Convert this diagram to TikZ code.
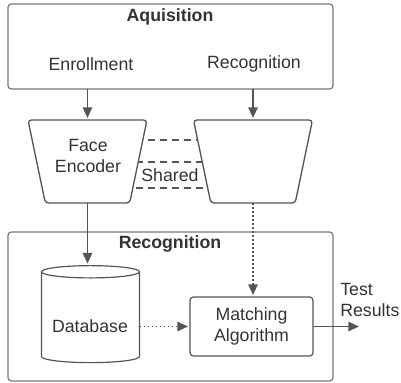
\documentclass[tikz,border=0pt]{standalone}
\usepackage{fontspec}
\setmainfont{Liberation Sans}
\usetikzlibrary{arrows.meta, positioning, shapes.geometric, backgrounds}

\definecolor{linegray}{HTML}{555555}
\definecolor{boxgray}{HTML}{777777}
\definecolor{textgray}{HTML}{333333}

\newcommand{\diagfont}{\fontsize{13.3}{15.75}\selectfont}

\tikzset{
  frame/.style={draw=boxgray, line width=0.9pt, rounded corners=2.5pt, inner sep=0pt, outer sep=0pt},
  encoder/.style={draw=linegray, line width=1pt, fill=white, trapezium, trapezium angle=78.4,
    shape border rotate=180, trapezium stretches=true, rounded corners=2.5pt,
    minimum width=89.25pt, minimum height=62.25pt, inner sep=2pt, outer sep=0pt},
  store/.style={draw=linegray, line width=0.9pt, cylinder, shape border rotate=90, aspect=2.3,
    minimum width=73.5pt, minimum height=72.75pt, inner sep=2pt, outer sep=0pt},
  label/.style={text=textgray, inner sep=0pt, align=center},
  title/.style={label, font=\diagfont\bfseries},
  flow/.style={draw=linegray, line width=1.4pt, -{Triangle[length=8pt,width=7pt]}, shorten >=1.5pt},
  dotflow/.style={flow, dash pattern=on 1.4pt off 1.6pt},
  shareline/.style={draw=linegray, line width=1.5pt, dash pattern=on 5.5pt off 3.5pt}
}

\begin{document}
\begin{tikzpicture}[x=0.75pt, y=-0.75pt, font=\diagfont]
  \useasboundingbox (0,0) rectangle (401,383);

  % acquisition stage
  \node[frame, minimum width=243.75pt, minimum height=63.75pt] (acq) at (170.5,46.5) {};
  \node[title] (acqtitle) at (170,17) {Aquisition};
  \node[label] (enroll) at (91,64) {Enrollment};
  \node[label] (recog) at (254,64) {Recognition};

  % the two encoders
  \node[encoder] (enc) at (87.5,161.5) {};
  \node[label] (enctext) at (88,155.5) {Face\\Encoder};
  \node[encoder] (dec) at (253,161.5) {};

  % weights shared between both encoders
  \begin{scope}[on background layer]
    \draw[shareline] ([yshift=16.5pt]enc.center) -- ([yshift=16.5pt]dec.center);
    \draw[shareline] (enc.center) -- (dec.center);
    \draw[shareline] ([yshift=-20pt]enc.center) -- ([yshift=-20pt]dec.center);
  \end{scope}
  \node[label] (shared) at (170,175) {Shared};

  % recognition stage
  \node[frame, minimum width=243.75pt, minimum height=111.75pt] (rec) at (170.5,306.5) {};
  \node[title] (rectitle) at (170,244) {Recognition};
  \node[store] (db) at (90.5,318.5) {};
  \node[label] (dbtext) at (90,326) {Database};
  \node[frame, draw=linegray, minimum width=92.25pt, minimum height=44.25pt] (match) at (251.5,326.5) {};
  \node[label] (matchtext) at (251.5,326) {Matching\\Algorithm};
  \node[label, anchor=west, align=left] (result) at (340,299.5) {Test\\Results};
  \coordinate (out) at (361,326.5);

  % connections
  \draw[flow] (enc.north |- acq.south) -- (enc.north);
  \draw[flow] (dec.north |- acq.south) -- (dec.north);
  \draw[flow] (enc.south) -- (enc.south |- db.north);
  \draw[dotflow] (dec.south) -- (dec.south |- match.north);
  \draw[dotflow] (db.east |- match.west) -- (match.west);
  \draw[flow] (match.east) -- (out);
\end{tikzpicture}
\end{document}
